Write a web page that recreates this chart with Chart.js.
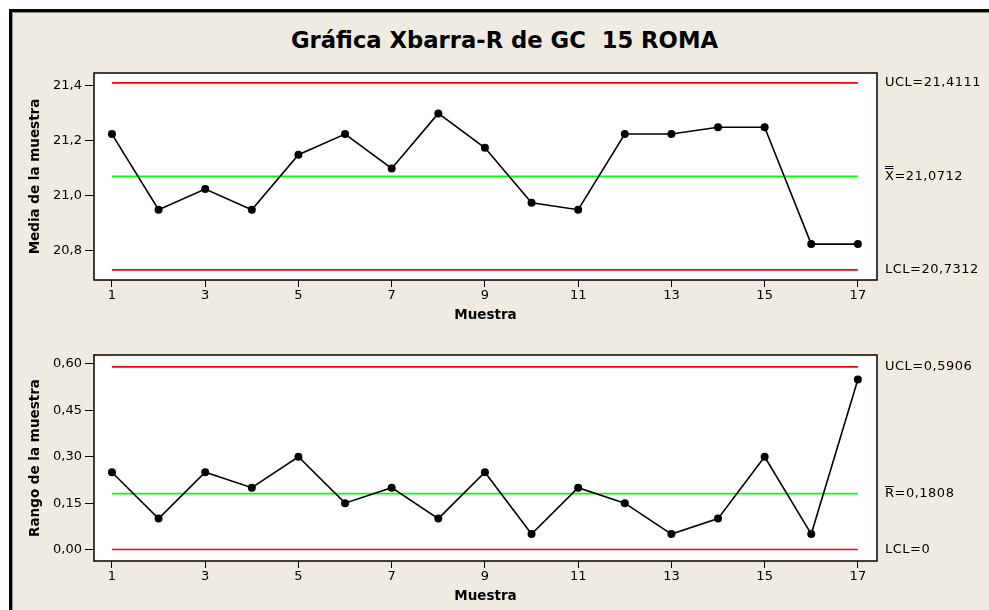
<!DOCTYPE html>
<html>
<head>
<meta charset="utf-8">
<script src="https://cdn.jsdelivr.net/npm/chart.js@4/dist/chart.umd.min.js"></script>
<style>
html,body{margin:0;padding:0;background:#fff;width:989px;height:610px;overflow:hidden;}
#frame{position:absolute;left:9px;top:9px;width:977px;height:598px;background:#EFEBE1;border-left:3px solid #000;border-top:3px solid #000;box-shadow:inset 1px 1px 0 #8a8a8a;}
#title{position:absolute;left:20px;top:27px;width:969px;line-height:27px;text-align:center;font:bold 22.7px "DejaVu Sans";white-space:pre;color:#000;}
canvas{position:absolute;left:0;}
</style>
</head>
<body>
<div id="frame"></div>
<div id="title">Gráfica Xbarra-R de GC  15 ROMA</div>
<canvas id="cMedia" width="989" height="270" style="top:60px;width:989px;height:270px;"></canvas>
<canvas id="cRango" width="989" height="270" style="top:340px;width:989px;height:270px;"></canvas>
<script>
// ---- data ----
const samples = [1,2,3,4,5,6,7,8,9,10,11,12,13,14,15,16,17];
const xbarValues = [21.225,20.95,21.025,20.95,21.15,21.225,21.10,21.30,21.175,20.975,20.95,21.225,21.225,21.25,21.25,20.825,20.825];
const rangeValues = [0.25,0.10,0.25,0.20,0.30,0.15,0.20,0.10,0.25,0.05,0.20,0.15,0.05,0.10,0.30,0.05,0.55];

const xTicks = [1,3,5,7,9,11,13,15,17];
const xTickLabels = ['1','3','5','7','9','11','13','15','17'];
const xbarTicks = [20.8,21.0,21.2,21.4];
const xbarTickLabels = ['20,8','21,0','21,2','21,4'];
const rangeTicks = [0,0.15,0.30,0.45,0.60];
const rangeTickLabels = ['0,00','0,15','0,30','0,45','0,60'];

const xbarUCL = 21.4111, xbarCL = 21.0712, xbarLCL = 20.7312;
const rangeUCL = 0.5906, rangeCL = 0.1808, rangeLCL = 0;
const xbarLimitLabels = [
  {value:xbarUCL, text:'UCL=21,4111'},
  {value:xbarCL, sym:'X', bars:2, text:'=21,0712'},
  {value:xbarLCL, text:'LCL=20,7312'}
];
const rangeLimitLabels = [
  {value:rangeUCL, text:'UCL=0,5906'},
  {value:rangeCL, sym:'R', bars:1, text:'=0,1808'},
  {value:rangeLCL, text:'LCL=0'}
];

// ---- plugin: white plot area, frame, limit labels ----
const plotFrame = {
  id:'plotFrame',
  beforeDraw(chart){
    const {ctx, chartArea:a} = chart;
    ctx.save(); ctx.fillStyle='#fff'; ctx.fillRect(a.left,a.top,a.width,a.height); ctx.restore();
  },
  afterDraw(chart, args, opts){
    const {ctx, chartArea:a} = chart;
    ctx.save();
    ctx.strokeStyle='#000'; ctx.lineWidth=1.5;
    ctx.strokeRect(a.left,a.top,a.width,a.height);
    const ys = chart.scales.y;
    ctx.font='13px "DejaVu Sans"'; ctx.fillStyle='#000'; ctx.textBaseline='middle'; ctx.textAlign='left';
    try { ctx.letterSpacing = '0.5px'; } catch(e) {}
    (opts.labels||[]).forEach(l=>{
      const y = ys.getPixelForValue(l.value);
      let x = a.right + 8;
      if (l.sym){
        ctx.fillText(l.sym, x, y);
        const w = ctx.measureText(l.sym).width;
        ctx.lineWidth = 1;
        for (let k=0;k<l.bars;k++){
          const yy = Math.round(y-8-k*2.5)+0.5;
          ctx.beginPath(); ctx.moveTo(x, yy); ctx.lineTo(x+w-1, yy); ctx.stroke();
        }
        x += w;
      }
      ctx.fillText(l.text, x, y);
    });
    ctx.restore();
  }
};

function makeChart(id, cfg){
  const n = samples.length;
  const hline = (v, color) => ({
    data:[{x:samples[0],y:v},{x:samples[n-1],y:v}],
    borderColor:color, borderWidth:1.6, pointRadius:0, fill:false
  });
  return new Chart(document.getElementById(id), {
    type:'line',
    data:{
      datasets:[
        {data:samples.map((s,i)=>({x:s,y:cfg.values[i]})), borderColor:'#000', backgroundColor:'#000',
         borderWidth:1.6, pointRadius:4, pointBackgroundColor:'#000', pointBorderWidth:0, tension:0, fill:false},
        hline(cfg.ucl,'#FF0000'),
        hline(cfg.cl,'#00FF00'),
        hline(cfg.lcl,'#FF0000')
      ]
    },
    options:{
      responsive:false, animation:false, devicePixelRatio:1,
      layout:{padding:{left:0,right:112,top:cfg.padTop,bottom:0}},
      plugins:{legend:{display:false}, tooltip:{enabled:false}, plotFrame:{labels:cfg.limitLabels}},
      scales:{
        x:{
          type:'linear', min:0.615, max:17.41,
          afterBuildTicks:s=>{ s.ticks = xTicks.map(v=>({value:v})); },
          afterFit:s=>{ s.height = cfg.xH; },
          ticks:{color:'#000', font:{family:'DejaVu Sans', size:13}, padding:1, autoSkip:false, maxRotation:0,
                 callback:(v,i)=>xTickLabels[i]},
          grid:{drawOnChartArea:false, drawTicks:true, tickLength:7, color:'#000', lineWidth:1},
          border:{display:false},
          title:{display:true, text:'Muestra', color:'#000', font:{family:'DejaVu Sans', size:13.5, weight:'bold'},
                 padding:{top:0,bottom:cfg.xTitlePad}}
        },
        y:{
          type:'linear', min:cfg.min, max:cfg.max,
          afterBuildTicks:s=>{ s.ticks = cfg.ticks.map(v=>({value:v})); },
          afterFit:s=>{ s.width = 94; },
          ticks:{color:'#000', font:{family:'DejaVu Sans', size:13}, padding:3, autoSkip:false,
                 callback:(v,i)=>cfg.tickLabels[i]},
          grid:{drawOnChartArea:false, drawTicks:true, tickLength:9, color:'#000', lineWidth:1},
          border:{display:false},
          title:{display:true, text:cfg.yTitle, color:'#000', font:{family:'DejaVu Sans', size:13.5, weight:'bold'},
                 padding:{top:27,bottom:0}}
        }
      }
    },
    plugins:[plotFrame]
  });
}

makeChart('cMedia', {
  values:xbarValues, ucl:xbarUCL, cl:xbarCL, lcl:xbarLCL,
  min:20.6945, max:21.447, ticks:xbarTicks, tickLabels:xbarTickLabels,
  yTitle:'Media de la muestra', limitLabels:xbarLimitLabels,
  padTop:13, xH:50, xTitlePad:6
});
makeChart('cRango', {
  values:rangeValues, ucl:rangeUCL, cl:rangeCL, lcl:rangeLCL,
  min:-0.037, max:0.629, ticks:rangeTicks, tickLabels:rangeTickLabels,
  yTitle:'Rango de la muestra', limitLabels:rangeLimitLabels,
  padTop:15, xH:49, xTitlePad:5
});
</script>
</body>
</html>
